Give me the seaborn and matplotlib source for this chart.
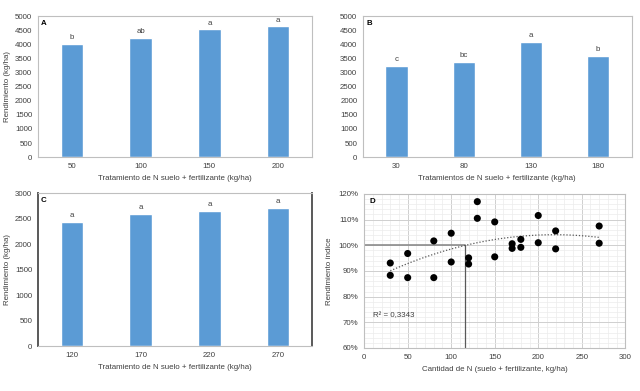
import numpy as np
import pandas as pd
import matplotlib
matplotlib.use("Agg")
import matplotlib.pyplot as plt
from matplotlib.ticker import MultipleLocator, PercentFormatter
import seaborn as sns

# panel A
dose_a = ["50", "100", "150", "200"]
yield_a = [4025, 4235, 4525, 4630]
letters_a = ["b", "ab", "a", "a"]

# panel B
dose_b = ["30", "80", "130", "180"]
yield_b = [3235, 3370, 4080, 3580]
letters_b = ["c", "bc", "a", "b"]

# panel C
dose_c = ["120", "170", "220", "270"]
yield_c = [2435, 2590, 2655, 2715]
letters_c = ["a", "a", "a", "a"]

# panel D: relative yield vs total N
n_total = [30, 30, 50, 50, 80, 80, 100, 100, 120, 120, 130, 130,
           150, 150, 170, 170, 180, 180, 200, 200, 220, 220, 270, 270]
rel_yield = [93.1, 88.3, 96.8, 87.4, 101.7, 87.4, 104.7, 93.5, 95.1, 92.7, 117.0, 110.5,
             109.1, 95.5, 100.6, 98.8, 102.3, 99.2, 111.6, 101.0, 105.6, 98.6, 107.5, 100.8]
r2_text = "R² = 0,3343"
n_opt = 116

sns.set_theme(style="white")
plt.rcParams['font.family'] = ['Liberation Sans', 'DejaVu Sans']

FS = 5.7
BLUE = "#5B9BD5"
TXT = "#404040"

fig = plt.figure(figsize=(6.4, 3.91), dpi=100)
ax_a = fig.add_axes([0.059, 0.598, 0.429, 0.361])
ax_b = fig.add_axes([0.567, 0.598, 0.420, 0.361])
ax_c = fig.add_axes([0.059, 0.115, 0.429, 0.391])
ax_d = fig.add_axes([0.569, 0.110, 0.408, 0.394])


def bar_panel(ax, cats, vals, letters, tag, ymax, xlabel, ylabel, step):
    sns.barplot(x=cats, y=vals, color=BLUE, width=0.33, saturation=1, ax=ax)
    ax.set_ylim(0, ymax)
    ax.set_xlim(-0.5, len(cats) - 0.5)
    ax.yaxis.set_major_locator(MultipleLocator(step))
    for i, (v, l) in enumerate(zip(vals, letters)):
        ax.text(i, v + ymax * 0.02, l, ha="center", va="bottom", fontsize=FS, color=TXT)
    ax.text(0.012, 0.975, tag, transform=ax.transAxes, ha="left", va="top",
            fontsize=FS, fontweight="bold", color="black")
    ax.set_xlabel(xlabel, fontsize=FS, color=TXT, labelpad=4)
    ax.set_ylabel(ylabel, fontsize=FS, color=TXT, labelpad=3)
    ax.tick_params(axis="both", labelsize=FS, colors=TXT, length=0, pad=4)
    for s in ax.spines.values():
        s.set_color("#bfbfbf")
        s.set_linewidth(0.8)


bar_panel(ax_a, dose_a, yield_a, letters_a, "A", 5000,
          "Tratamiento de N suelo + fertilizante (kg/ha)", "Rendimiento (kg/ha)", 500)
bar_panel(ax_b, dose_b, yield_b, letters_b, "B", 5000,
          "Tratamientos de N suelo + fertilizante (kg/ha)", "", 500)
bar_panel(ax_c, dose_c, yield_c, letters_c, "C", 3000,
          "Tratamiento de N suelo + fertilizante (kg/ha)", "Rendimiento (kg/ha)", 500)
for side in ["left", "right"]:
    ax_c.spines[side].set_color("#595959")
    ax_c.spines[side].set_linewidth(1.4)

# panel D
df = pd.DataFrame({"n": n_total, "ry": rel_yield})
coef = np.polyfit(df["n"], df["ry"], 2)
xs = np.linspace(min(n_total), max(n_total), 100)
fit = pd.DataFrame({"n": xs, "ry": np.polyval(coef, xs)})

ax_d.set_xlim(0, 300)
ax_d.set_ylim(60, 120)
ax_d.xaxis.set_major_locator(MultipleLocator(50))
ax_d.xaxis.set_minor_locator(MultipleLocator(10))
ax_d.yaxis.set_major_locator(MultipleLocator(10))
ax_d.yaxis.set_minor_locator(MultipleLocator(2))
ax_d.yaxis.set_major_formatter(PercentFormatter(decimals=0))
ax_d.grid(which="minor", color="#ececec", linewidth=0.5)
ax_d.grid(which="major", color="#cfcfcf", linewidth=0.7)
ax_d.set_axisbelow(True)

ax_d.plot([0, n_opt], [100, 100], color="#8c8c8c", lw=1.2, zorder=2)
ax_d.plot([n_opt, n_opt], [60, 100], color="#595959", lw=0.9, zorder=2)
sns.lineplot(data=fit, x="n", y="ry", ax=ax_d, color="#595959", lw=0.9,
             linestyle=(0, (1, 1.5)), zorder=3)
sns.scatterplot(data=df, x="n", y="ry", ax=ax_d, color="black", s=26,
                edgecolor="none", zorder=4)

ax_d.text(0.02, 0.975, "D", transform=ax_d.transAxes, ha="left", va="top",
          fontsize=FS, fontweight="bold", color="black")
ax_d.text(10, 72.5, r2_text, ha="left", va="center", fontsize=FS, color=TXT)
ax_d.set_xlabel("Cantidad de N (suelo + fertilizante, kg/ha)", fontsize=FS, color=TXT, labelpad=4)
ax_d.set_ylabel("Rendimiento índice", fontsize=FS, color=TXT, labelpad=4)
ax_d.tick_params(axis="both", which="both", labelsize=FS, colors=TXT, length=0, pad=4)
for s in ax_d.spines.values():
    s.set_color("#bfbfbf")
    s.set_linewidth(0.8)

fig.savefig("out.png", dpi=100, facecolor="white")
